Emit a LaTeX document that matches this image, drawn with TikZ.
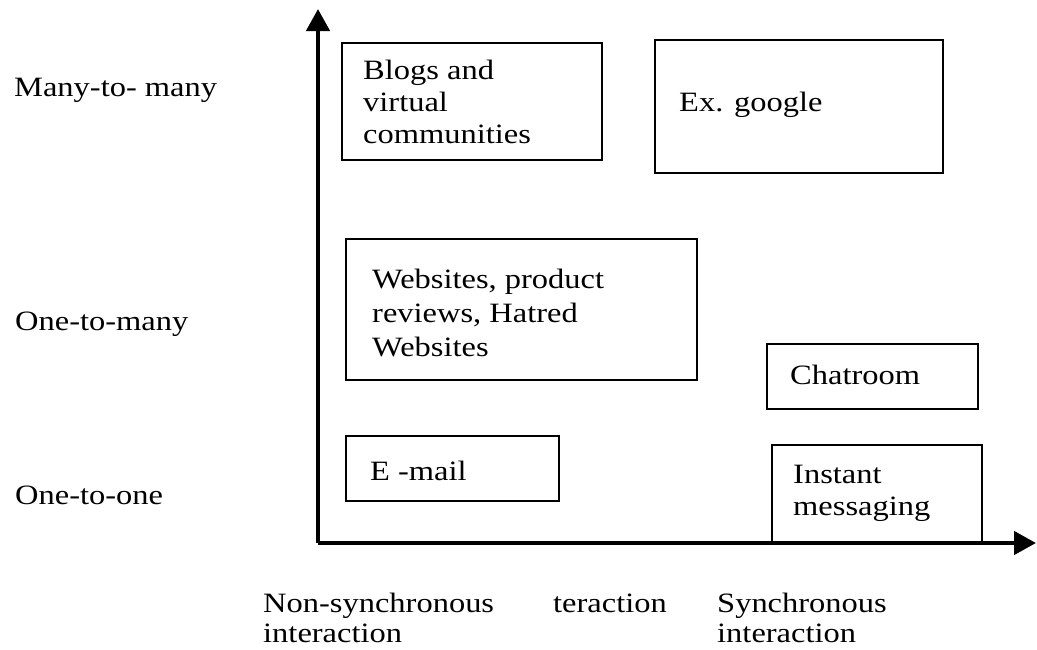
\documentclass[tikz,border=0pt]{standalone}
\usepackage{fontspec}
\setmainfont{Liberation Serif}[FakeStretch=1.16]
\usetikzlibrary{arrows.meta}
\tikzset{
  box/.style={draw=black, line width=1.8pt, rectangle, inner sep=0pt},
  lbl/.style={anchor=base west, inner sep=0pt, align=left, font=\fontsize{28}{33}\selectfont},
  axis/.style={line width=4.5pt, -{Triangle[length=22pt,width=23pt]}}
}
\begin{document}
\begin{tikzpicture}[x=1pt,y=-1pt]
\useasboundingbox (0,0) rectangle (1037,649);
% axes
\coordinate (O) at (318,543);
\coordinate (ytop) at (318,9);
\coordinate (xend) at (1036,543);
\draw[axis] (O) -- (ytop);
\draw[axis] (O) -- (xend);
% boxes
\node[box, minimum width=260pt, minimum height=117pt] (blogsbox) at (472,101.5) {};
\node[box, minimum width=288pt, minimum height=133pt] (googlebox) at (799,106.5) {};
\node[box, minimum width=351pt, minimum height=141pt] (webbox) at (521.5,309.5) {};
\node[box, minimum width=211pt, minimum height=65pt] (chatbox) at (872.5,376.5) {};
\node[box, minimum width=213pt, minimum height=65pt] (mailbox) at (452.5,468.5) {};
\node[box, minimum width=210pt, minimum height=98pt] (imbox) at (877,494) {};
% box texts (base anchor = baseline of the last line)
\node[lbl, font=\fontsize{28}{32}\selectfont] (blogs) at (363,143) {Blogs and\\virtual\\communities};
\node[lbl] (google) at (679,111) {Ex. google};
\node[lbl, font=\fontsize{28}{34}\selectfont] (web) at (372,356) {Websites, product\\reviews, Hatred\\Websites};
\node[lbl] (chat) at (790,384) {Chatroom};
\node[lbl] (mail) at (370,480) {E -mail};
\node[lbl, font=\fontsize{28}{32}\selectfont] (im) at (793,515) {Instant\\messaging};
% row labels
\node[lbl] (mm) at (14,96) {Many-to- many};
\node[lbl] (om) at (15,330) {One-to-many};
\node[lbl] (oo) at (15,504) {One-to-one};
% column labels
\node[lbl, font=\fontsize{28}{30}\selectfont] (nonsync) at (263,642) {Non-synchronous\\interaction};
\node[lbl] (inter) at (553,612) {teraction};
\node[lbl, font=\fontsize{28}{30}\selectfont] (sync) at (717,642) {Synchronous\\interaction};
\end{tikzpicture}
\end{document}
